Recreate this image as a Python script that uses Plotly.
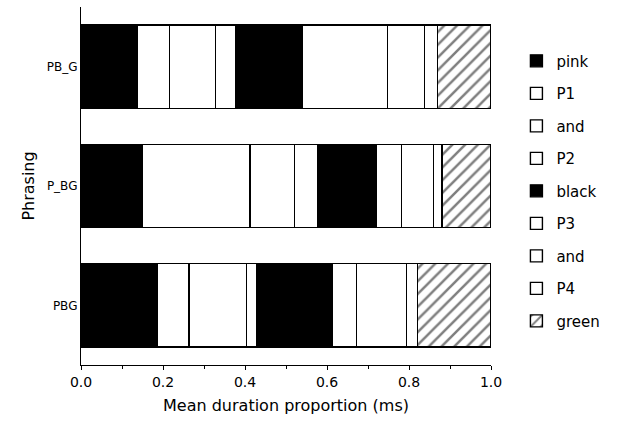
import plotly.graph_objects as go

# Phrasing conditions (bottom to top on the y axis)
phrasings = ["PBG", "P_BG", "PB_G"]

# Segment names in sentence order
segments = ["pink", "P1", "and", "P2", "black", "P3", "and", "P4", "green"]

# Mean duration proportion of each segment, per phrasing (PBG, P_BG, PB_G)
pink_vals  = [0.185, 0.149, 0.137]
p1_vals    = [0.078, 0.263, 0.079]
and1_vals  = [0.140, 0.108, 0.112]
p2_vals    = [0.025, 0.057, 0.049]
black_vals = [0.186, 0.144, 0.163]
p3_vals    = [0.058, 0.061, 0.207]
and2_vals  = [0.122, 0.078, 0.091]
p4_vals    = [0.026, 0.020, 0.031]
green_vals = [0.180, 0.120, 0.131]

series = [pink_vals, p1_vals, and1_vals, p2_vals, black_vals,
          p3_vals, and2_vals, p4_vals, green_vals]
fills = ["black", "white", "white", "white", "black",
         "white", "white", "white", "white"]

FONT = "DejaVu Sans"

fig = go.Figure()
for i, (name, vals, fill) in enumerate(zip(segments, series, fills)):
    marker = dict(color=fill, line=dict(color="black", width=1.4))
    if name == "green":
        marker["pattern"] = dict(shape="/", fgcolor="black", bgcolor="white",
                                 size=9, solidity=0.28)
    fig.add_trace(go.Bar(
        y=phrasings, x=vals, name=name, orientation="h",
        marker=marker, legendgroup=f"g{i}", width=0.70,
    ))

fig.update_layout(
    barmode="stack",
    width=618, height=424,
    margin=dict(l=81, r=127, t=7, b=59),
    plot_bgcolor="white", paper_bgcolor="white",
    font=dict(family=FONT, color="black"),
    legend=dict(
        x=1.062, y=0.895, xanchor="left", yanchor="top",
        traceorder="grouped", tracegroupgap=10,
        font=dict(size=15, family=FONT, color="black"),
        itemclick=False,
    ),
    xaxis=dict(
        range=[0, 1.0], tickvals=[0, 0.2, 0.4, 0.6, 0.8, 1.0],
        ticktext=["0.0", "0.2", "0.4", "0.6", "0.8", "1.0"],
        ticks="outside", ticklen=4, tickwidth=1.3, tickcolor="black",
        minor=dict(tickvals=[0.1, 0.3, 0.5, 0.7, 0.9], ticks="outside",
                   ticklen=3, tickcolor="black"),
        showline=True, linecolor="black", linewidth=1.3,
        showgrid=False, zeroline=False,
        tickfont=dict(size=14, family=FONT),
        title=dict(text="Mean duration proportion (ms)",
                   font=dict(size=16, family=FONT), standoff=10),
    ),
    yaxis=dict(
        range=[-0.5, 2.5],
        showline=True, linecolor="black", linewidth=1.3,
        ticks="", showgrid=False, zeroline=False,
        tickfont=dict(size=12, family=FONT),
        title=dict(text="Phrasing", font=dict(size=16, family=FONT), standoff=8),
    ),
)

fig.write_html("out.html")
